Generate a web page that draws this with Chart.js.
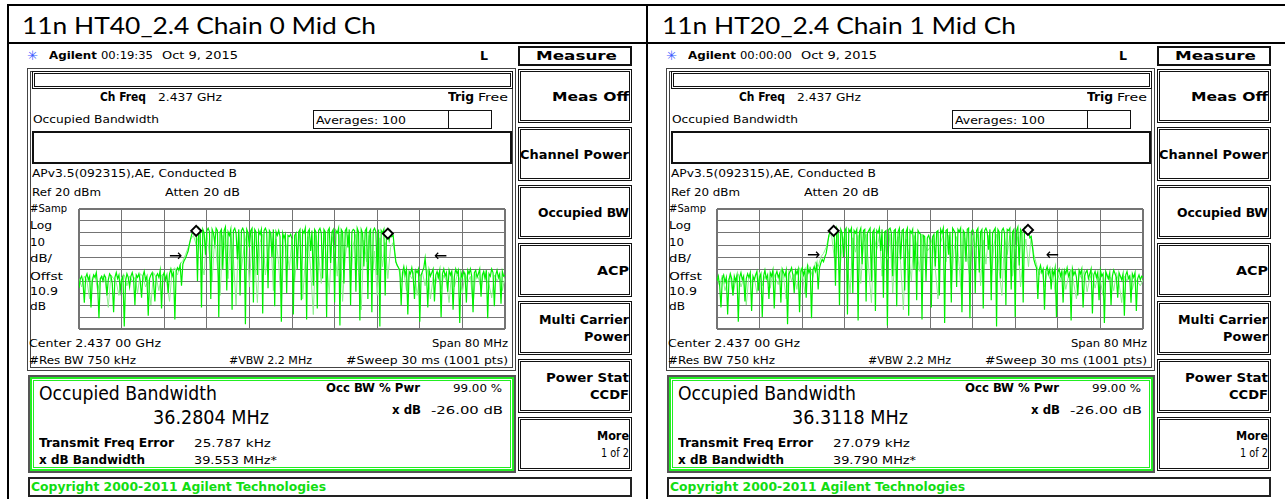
<!DOCTYPE html>
<html lang="en">
<head>
<meta charset="UTF-8">
<title>Occupied Bandwidth - Mid Ch</title>
<script src="https://cdn.jsdelivr.net/npm/chart.js"></script>
<style>
    body { margin: 0; background: #fff; }
    #page { position: relative; width: 1285px; height: 499px; overflow: hidden; background: #fff; }
    .t { position: absolute; white-space: nowrap; line-height: 1; transform-origin: 0 50%; }
    .box { position: absolute; box-sizing: border-box; }
    canvas { position: absolute; }
</style>
</head>
<body>
<div id="page"></div>

<script>
// sweep: center 2.437 GHz, span 80 MHz, offsets in MHz
const freqStart = -40;
const brightStep = 0.25;   // bright trace, one value every 0.25 MHz
const lightStep = 0.5;     // pale trace, one value every 0.5 MHz

// 11n HT40 chain 0 (dBm)
const ht40Bright = [
    -46,-38,-36,-41,-58,-37,-34,-39,-36,-62,-40,-35,-37,-33,-44,-71,-38,-36,-40,-35,
    -37,-52,-39,-34,-36,-42,-66,-37,-33,-38,-35,-48,-39,-36,-78,-40,-34,-37,-45,-36,
    -33,-38,-60,-35,-37,-34,-40,-54,-36,-32,-39,-36,-69,-38,-35,-33,-41,-57,-36,-34,
    -37,-31,-63,-36,-33,-39,-35,-50,-34,-30,-36,-33,-72,-32,-29,-31,-27,-44,-26,-23,
    -21,-18,-15,-9,-4,0,2,1,3,-40,4,2,-62,3,0,-18,2,4,1,-55,
    3,0,-9,4,2,-70,1,3,-30,2,5,-48,1,-2,3,-64,2,4,0,-22,
    3,-52,2,4,1,-76,3,0,-12,2,4,-58,3,1,-35,2,-1,3,-67,2,
    4,1,-46,2,0,-20,3,-61,1,-2,2,-3,-74,0,-4,-1,-50,-2,-3,-1,
    -5,-68,-2,0,-30,1,3,-56,2,0,4,-72,1,3,-15,2,-44,3,1,-63,
    2,4,0,-38,3,1,-70,2,4,-25,1,3,-58,2,0,4,-77,3,1,-42,
    2,4,-12,3,-60,1,3,2,-49,4,1,-73,3,0,-28,2,4,-55,1,3,
    -66,2,4,1,-35,3,-78,2,0,3,-52,1,2,-6,1,-3,-2,-14,-24,-27,
    -29,-31,-60,-33,-28,-35,-30,-68,-32,-34,-29,-36,-55,-31,-33,-30,-74,-35,-32,-29,
    -21,-34,-62,-31,-36,-33,-30,-57,-35,-32,-37,-31,-70,-34,-30,-36,-33,-49,-31,-35,
    -32,-64,-36,-30,-34,-31,-75,-33,-37,-32,-35,-58,-31,-34,-30,-36,-66,-33,-31,-37,
    -34,-30,-53,-35,-32,-38,-31,-71,-34,-36,-30,-33,-61,-35,-31,-37,-34,-59,-32,-36,
    -35
];
const ht40Light = [
    -38,-45,-36,-40,-55,-37,-35,-48,-39,-36,-42,-62,-35,-38,-41,-52,-37,-35,-44,-36,
    -40,-37,-50,-34,-36,-45,-39,-60,-33,-37,-48,-35,-34,-42,-57,-31,-29,-35,-26,-23,
    -18,-12,-5,-2,-10,-1,-25,-35,0,-18,-40,-3,-28,-52,-2,-15,-38,-1,-22,-60,
    1,-30,-12,0,-45,-2,-20,-58,-8,-1,-35,-16,0,-48,-5,-26,-62,-4,-12,-30,
    -5,-40,-15,-1,-55,-22,-3,-30,-68,-2,-18,-42,0,-25,-50,-3,-14,-36,-1,-57,
    -20,-2,-44,-10,-1,-33,-64,-6,-24,-2,-40,-15,-52,-4,-28,-8,-38,-12,-8,-24,
    -29,-40,-32,-48,-34,-38,-31,-52,-36,-33,-44,-30,-55,-37,-42,-33,-47,-35,-40,-58,
    -32,-45,-35,-38,-50,-33,-41,-36,-60,-34,-37,-46,-32,-39,-43,-54,-35,-40,-36,-48,
    -37
];
const ht40MarkX = [-18.0, 18.0];
const ht40MarkY = [1.8, -0.5];
const ht40ArrowX = [-20.6, 26.6];
const ht40ArrowY = [-20.2, -20.2];

// 11n HT20 chain 1 (dBm)
const ht20Bright = [
    -40,-36,-44,-62,-38,-35,-41,-37,-68,-39,-34,-38,-52,-36,-40,-35,-74,-37,-33,-39,
    -36,-57,-38,-34,-37,-33,-65,-36,-39,-35,-32,-48,-37,-34,-70,-36,-31,-38,-35,-55,
    -33,-36,-31,-63,-35,-32,-37,-34,-58,-30,-33,-36,-31,-76,-34,-32,-29,-35,-50,-31,
    -34,-30,-66,-32,-29,-35,-31,-54,-28,-33,-30,-71,-31,-28,-32,-26,-47,-29,-25,-22,
    -24,-20,-17,-10,-2,1,2,3,2,-44,4,1,-60,3,0,-20,2,4,-68,3,
    1,4,-50,2,0,3,-73,1,4,-26,2,3,-57,0,2,4,-40,1,3,-65,
    2,0,4,-15,3,-54,1,2,-77,3,4,0,-36,2,3,-61,1,4,-22,2,
    3,-48,1,4,-69,2,0,3,-30,1,-56,2,0,-1,-72,-2,-3,-40,-4,-2,
    -6,-62,-3,-1,-28,1,2,-52,3,0,4,-75,2,3,-18,1,-58,4,2,0,
    -45,3,1,4,-66,2,0,-24,3,4,-71,1,3,0,-50,2,4,-33,1,3,
    -63,2,4,1,-14,3,-56,0,2,4,-78,3,1,-38,2,4,0,-60,3,2,
    4,-47,1,3,-70,2,5,-27,3,1,-58,4,2,3,2,-4,-3,-12,-22,-26,
    -29,-55,-31,-27,-33,-30,-64,-32,-28,-34,-30,-47,-31,-35,-29,-70,-33,-30,-36,-32,
    -58,-31,-34,-29,-36,-33,-73,-30,-35,-32,-37,-52,-31,-34,-30,-62,-36,-33,-31,-38,
    -34,-30,-67,-35,-32,-37,-33,-56,-31,-36,-34,-75,-32,-35,-38,-33,-60,-36,-31,-34,
    -37,-54,-33,-36,-39,-34,-69,-35,-32,-38,-36,-58,-34,-37,-33,-65,-38,-35,-39,-36,
    -37
];
const ht20Light = [
    -37,-44,-35,-48,-40,-36,-52,-39,-34,-45,-38,-60,-35,-41,-37,-50,-33,-44,-36,-40,
    -46,-32,-38,-43,-30,-36,-55,-31,-40,-34,-47,-29,-33,-50,-26,-30,-37,-24,-28,-20,
    -17,-12,-3,-1,-20,-2,-35,-10,-1,-28,-50,-4,-16,-2,-42,-8,-1,-30,-58,-3,
    -14,-2,-36,-6,-22,-1,-50,-12,-3,-26,-64,-5,-18,-40,-2,-10,-32,-1,-8,-15,
    -12,-3,-30,-55,-8,-1,-24,-2,-46,-14,-3,-28,-60,-4,-20,-38,-2,-12,-1,-44,
    -6,-26,-2,-40,-10,-1,-32,-52,-4,-18,-2,-36,-14,-3,-45,-20,-5,-28,-2,-18,
    -26,-35,-30,-45,-33,-38,-29,-50,-35,-40,-32,-47,-36,-30,-42,-55,-34,-38,-31,-49,
    -38,-33,-46,-36,-40,-52,-34,-39,-37,-48,-33,-42,-58,-36,-40,-35,-47,-38,-41,-44,
    -39
];
const ht20MarkX = [-18.1, 18.4];
const ht20MarkY = [1.8, 2.6];
const ht20ArrowX = [-20.6, 21.7];
const ht20ArrowY = [-19.4, -19.4];

// screen scale: ref 20 dBm, 10 dB/div, 10 divisions each way
const refLevel = 20;
const dbPerDiv = 10;
const spanMHz = 80;

const FONT = '"DejaVu Sans Condensed", "DejaVu Sans", sans-serif';
const TITLE_FONT = 'Lato, "Open Sans", sans-serif';
const page = document.getElementById('page');

// text squeezed between x1 and x2, vertically centred on cy
function txt(x1, x2, cy, s, size, o) {
    o = o || {};
    const el = document.createElement('div');
    el.className = 't';
    el.textContent = s;
    el.style.fontSize = size + 'px';
    el.style.fontFamily = o.font || FONT;
    if (o.bold) el.style.fontWeight = 'bold';
    el.style.color = o.color || '#000';
    el.style.left = x1 + 'px';
    el.style.top = (cy - size * 0.5) + 'px';
    page.appendChild(el);
    const w = el.getBoundingClientRect().width;
    el.style.transform = 'scaleX(' + ((x2 - x1) / w) + ')';
    return el;
}

function box(x1, y1, x2, y2, css) {
    const el = document.createElement('div');
    el.className = 'box';
    el.style.left = x1 + 'px';
    el.style.top = y1 + 'px';
    el.style.width = (x2 - x1) + 'px';
    el.style.height = (y2 - y1) + 'px';
    el.style.cssText += css;
    page.appendChild(el);
    return el;
}

// table lines of the document
box(7, 4, 1285, 6, 'background:#000;');
box(7, 4, 9, 499, 'background:#000;');
box(646, 4, 648, 499, 'background:#000;');
box(7, 42, 1285, 44, 'background:#000;');

// the -26 dB arrows
const arrowPlugin = {
    id: 'arrows',
    afterDatasetsDraw(chart, args, opts) {
        const c = chart.ctx;
        c.save();
        c.fillStyle = '#000';
        c.font = '16px "DejaVu Sans"';
        c.textBaseline = 'middle';
        opts.xs.forEach(function (x, i) {
            const px = chart.scales.x.getPixelForValue(x);
            const py = chart.scales.y.getPixelForValue(opts.ys[i]);
            c.textAlign = i === 0 ? 'right' : 'left';
            c.fillText(i === 0 ? '\u2192' : '\u2190', px, py);
        });
        c.restore();
    }
};

function gridOpts() {
    return {
        color: '#747474',
        drawTicks: false,
        lineWidth: function (c) { return (c.index === 0 || c.index === 10) ? 2 : 1; }
    };
}

function makeChart(id, bright, light, markX, markY, arrowX, arrowY) {
    const pts = function (a, step) {
        return a.map(function (v, i) { return { x: freqStart + i * step, y: v }; });
    };
    new Chart(document.getElementById(id), {
        type: 'line',
        data: {
            datasets: [
                { data: pts(light, lightStep), borderColor: '#8cf08c', borderWidth: 1, pointRadius: 0, tension: 0, order: 3 },
                { data: pts(bright, brightStep), borderColor: '#00f000', borderWidth: 1.2, pointRadius: 0, tension: 0, order: 2 },
                {
                    type: 'scatter',
                    data: markX.map(function (x, i) { return { x: x, y: markY[i] }; }),
                    pointStyle: 'rectRot', pointRadius: 5, borderWidth: 2,
                    borderColor: '#000', backgroundColor: '#fff', order: 1
                }
            ]
        },
        options: {
            responsive: false,
            animation: false,
            events: [],
            layout: { padding: 1 },
            plugins: {
                legend: { display: false },
                tooltip: { enabled: false },
                arrows: { xs: arrowX, ys: arrowY }
            },
            scales: {
                x: {
                    type: 'linear', min: -spanMHz / 2, max: spanMHz / 2,
                    ticks: { display: false, stepSize: spanMHz / 10 },
                    grid: gridOpts(), border: { display: false }
                },
                y: {
                    type: 'linear', min: refLevel - 10 * dbPerDiv, max: refLevel,
                    ticks: { display: false, stepSize: dbPerDiv },
                    grid: gridOpts(), border: { display: false }
                }
            }
        },
        plugins: [arrowPlugin]
    });
}

function panel(dx, p) {
    txt(p.titleX, p.titleX + 354, 25, p.title, 24, { font: TITLE_FONT });

    // header line
    txt(dx + 27, dx + 38, 55, '\u2733', 13, { color: '#3a5cff', font: '"DejaVu Sans", sans-serif' });
    txt(dx + 49, dx + 97, 55, 'Agilent', 11, { bold: true });
    txt(dx + 101, dx + 153, 55, p.time, 11);
    txt(dx + 162, dx + 238, 55, 'Oct 9, 2015', 11);
    txt(dx + 480, dx + 488, 55, 'L', 13, { bold: true });

    // main frame
    box(dx + 27, 68, dx + 516, 371, 'border:4px double #444;');
    box(dx + 32, 71, dx + 513, 89, 'border:3px double #111;');
    txt(dx + 100, dx + 146, 97, 'Ch Freq', 12, { bold: true });
    txt(dx + 158, dx + 222, 97, '2.437 GHz', 11);
    txt(dx + 448, dx + 474, 97, 'Trig', 12, { bold: true });
    txt(dx + 478, dx + 508, 97, 'Free', 11);
    txt(dx + 33, dx + 159, 119, 'Occupied Bandwidth', 11);
    box(dx + 313, 110, dx + 449, 129, 'border:1px solid #111;');
    box(dx + 448, 110, dx + 492, 129, 'border:1px solid #111;');
    txt(dx + 316, dx + 406, 120, 'Averages: 100', 11);
    box(dx + 32, 131, dx + 512, 164, 'border:2px solid #111;');
    txt(dx + 32, dx + 237, 173, 'APv3.5(092315),AE, Conducted B', 11);
    txt(dx + 32, dx + 101, 192, 'Ref 20 dBm', 11);
    txt(dx + 165, dx + 240, 192, 'Atten 20 dB', 11);
    const side = [['#Samp', 208, 67], ['Log', 225, 52], ['10', 242, 45], ['dB/', 258, 52],
                  ['Offst', 276, 63], ['10.9', 291, 58], ['dB', 306, 46]];
    side.forEach(function (s) { txt(dx + 30, dx + s[2], s[1], s[0], 11); });
    txt(dx + 29, dx + 161, 343, 'Center 2.437 00 GHz', 11);
    txt(dx + 432, dx + 508, 343, 'Span 80 MHz', 11);
    txt(dx + 29, dx + 136, 360, '#Res BW 750 kHz', 11);
    txt(dx + 229, dx + 312, 360, '#VBW 2.2 MHz', 11);
    txt(dx + 346, dx + 508, 360, '#Sweep 30 ms (1001 pts)', 11);

    // result window
    box(dx + 28, 375, dx + 516, 473, 'border:2px solid #555;box-shadow: inset 0 0 0 2px #22ee22, inset 0 0 0 3px #fff, inset 0 0 0 4px #22ee22;');
    txt(dx + 39, dx + 217, 393, 'Occupied Bandwidth', 20);
    txt(dx + 153, dx + 269, 417, p.obw, 20);
    txt(dx + 326, dx + 420, 388, 'Occ BW % Pwr', 12, { bold: true });
    txt(dx + 453, dx + 502, 388, '99.00 %', 11);
    txt(dx + 392, dx + 421, 410, 'x dB', 12, { bold: true });
    txt(dx + 431, dx + 503, 410, '-26.00 dB', 11);
    txt(dx + 39, dx + 174, 443, 'Transmit Freq Error', 12, { bold: true });
    txt(dx + 194, dx + 271, 443, p.ferr, 11);
    txt(dx + 39, dx + 145, 460, 'x dB Bandwidth', 12, { bold: true });
    txt(dx + 194, dx + 277, 460, p.xdb, 11);

    // copyright bar
    box(dx + 28, 477, dx + 632, 497, 'border:2px solid #222;');
    txt(dx + 31, dx + 326, 487, 'Copyright 2000-2011 Agilent Technologies', 12, { bold: true, color: '#11dd11' });

    // softkeys
    box(dx + 518, 46, dx + 632, 66, 'border:2px solid #111;');
    txt(dx + 536, dx + 617, 56, 'Measure', 12, { bold: true });
    const keys = [
        [69, 123, [['Meas Off', 552]]],
        [127, 181, [['Channel Power', 520]]],
        [185, 239, [['Occupied BW', 538]]],
        [243, 297, [['ACP', 597]]],
        [301, 355, [['Multi Carrier', 539], ['Power', 584]]],
        [359, 413, [['Power Stat', 546], ['CCDF', 590]]],
        [417, 471, [['More', 597], ['1 of 2', 601, true]]]
    ];
    keys.forEach(function (k) {
        box(dx + 518, k[0], dx + 632, k[1], 'border:3px double #111;');
        const mid = (k[0] + k[1]) / 2;
        const n = k[2].length;
        k[2].forEach(function (l, i) {
            const cy = mid + (i - (n - 1) / 2) * 17;
            txt(dx + l[1], dx + 629, cy, l[0], 13, { bold: !l[2] });
        });
    });

    // trace area
    const cv = document.createElement('canvas');
    cv.id = p.id;
    cv.width = 440;
    cv.height = 134;
    cv.style.left = (p.gridX - 1) + 'px';
    cv.style.top = '202px';
    page.appendChild(cv);
}

panel(0, { title: '11n HT40_2.4 Chain 0 Mid Ch', titleX: 22, time: '00:19:35', obw: '36.2804 MHz',
           ferr: '25.787 kHz', xdb: '39.553 MHz*', id: 'ht40', gridX: 73 });
panel(639, { title: '11n HT20_2.4 Chain 1 Mid Ch', titleX: 662, time: '00:00:00', obw: '36.3118 MHz',
             ferr: '27.079 kHz', xdb: '39.790 MHz*', id: 'ht20', gridX: 711 });

makeChart('ht40', ht40Bright, ht40Light, ht40MarkX, ht40MarkY, ht40ArrowX, ht40ArrowY);
makeChart('ht20', ht20Bright, ht20Light, ht20MarkX, ht20MarkY, ht20ArrowX, ht20ArrowY);
</script>
</body>
</html>
